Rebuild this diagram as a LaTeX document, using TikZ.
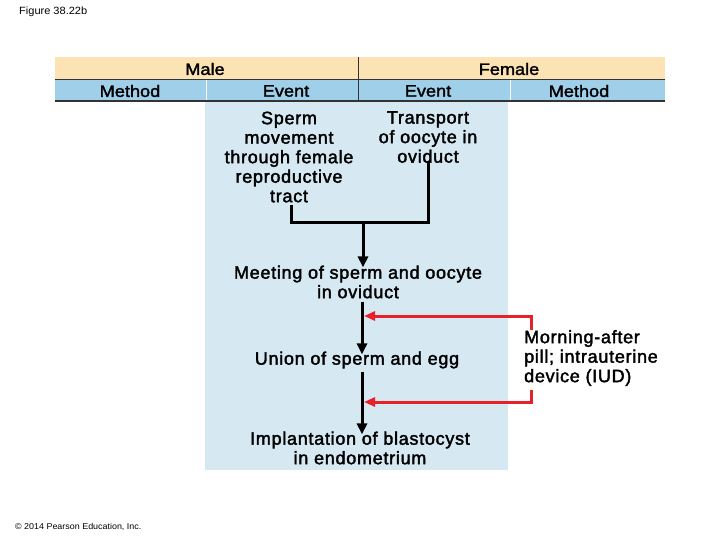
\documentclass[tikz,border=0pt]{standalone}
\usepackage{fontspec}
\setmainfont{Liberation Sans}
\newfontfamily\bodyf{Liberation Sans}[LetterSpace=4,FakeBold=2]
\newfontfamily\headf{Liberation Sans}[FakeStretch=1.1,FakeBold=1.8]
\newfontfamily\smallf{Liberation Sans}[FakeStretch=1.05]
\usetikzlibrary{arrows.meta}
\definecolor{hdrtan}{RGB}{252,227,180}
\definecolor{hdrblue}{RGB}{160,207,234}
\definecolor{panelblue}{RGB}{214,233,243}
\definecolor{arrred}{RGB}{232,32,42}
\tikzset{
  bodytext/.style={inner sep=0pt, align=center, font=\bodyf\fontsize{18}{19.5}\selectfont},
  headtext/.style={inner sep=0pt, font=\headf\fontsize{16.5}{19}\selectfont},
  blackarrow/.style={line width=3pt, -{Triangle[length=11pt,width=10pt]}},
  blackline/.style={line width=3pt},
  redarrow/.style={arrred, line width=3pt, -{Triangle[length=11pt,width=9pt]}}
}
\begin{document}
\begin{tikzpicture}[x=1pt,y=-1pt]
\useasboundingbox (0,0) rectangle (720,540);
\fill[white] (0,0) rectangle (720,540);
% header bands
\fill[hdrtan] (55,57) rectangle (665,79);
\fill[hdrblue] (55,79) rectangle (665,101);
\fill[panelblue] (205,101) rectangle (508,470);
\draw[black!80, line width=1pt] (55,79.5) -- (665,79.5);
\draw[black!80, line width=1.2pt] (55,101) -- (665,101);
\draw[white, line width=1pt] (206,80) -- (206,100.5);
\draw[white, line width=1pt] (510,80) -- (510,100.5);
\draw[black!80, line width=1pt] (358,57) -- (358,101);
% figure label and credit
\node[inner sep=0pt, anchor=west, font=\smallf\fontsize{10.5}{12}\selectfont] (figlabel) at (19,12) {Figure 38.22b};
\node[inner sep=0pt, anchor=west, font=\smallf\fontsize{8.5}{10}\selectfont] (credit) at (15,527) {\copyright\ 2014 Pearson Education, Inc.};
% header texts
\node[headtext] (male) at (205,69) {Male};
\node[headtext] (female) at (509,69) {Female};
\node[headtext] (mmethod) at (130,91) {Method};
\node[headtext] (mevent) at (286,91) {Event};
\node[headtext] (fevent) at (428,91) {Event};
\node[headtext] (fmethod) at (579,91) {Method};
% body texts
\node[bodytext] (sperm) at (289,157) {Sperm\\movement\\through female\\reproductive\\tract};
\node[bodytext] (transport) at (428,137) {Transport\\of oocyte in\\oviduct};
\node[bodytext] (meeting) at (358,282) {Meeting of sperm and oocyte\\in oviduct};
\node[bodytext] (union) at (357,360) {Union of sperm and egg};
\node[bodytext] (implant) at (360,448) {Implantation of blastocyst\\in endometrium};
\node[bodytext, align=left, anchor=west] (method) at (524,358) {Morning-after\\pill; intrauterine\\device (IUD)};
% connectors
\coordinate (jl) at (291,223);
\coordinate (jr) at (428,223);
\coordinate (jm) at (363,223);
\draw[blackline] (sperm.south -| jl) ++(0,2) -- (jl) -- (jr) -- ([yshift=2pt]transport.south);
\draw[blackarrow] (jm) -- ([yshift=-2pt]meeting.north -| jm);
\coordinate (a1top) at (362,303);
\coordinate (a2top) at (362,373);
\draw[blackarrow] (meeting.south -| a1top) ++(0,3) -- ([yshift=-3pt]union.north -| a1top) coordinate (a1end);
\draw[blackarrow] (union.south -| a2top) ++(0,3) -- ([yshift=-3pt]implant.north -| a2top) coordinate (a2end);
\coordinate (r1s) at (531,330);
\coordinate (r1t) at (364,316);
\coordinate (r2s) at (531,390);
\coordinate (r2t) at (364,402);
\draw[redarrow] (r1s) |- (r1t);
\draw[redarrow] (r2s) |- (r2t);
\end{tikzpicture}
\end{document}
